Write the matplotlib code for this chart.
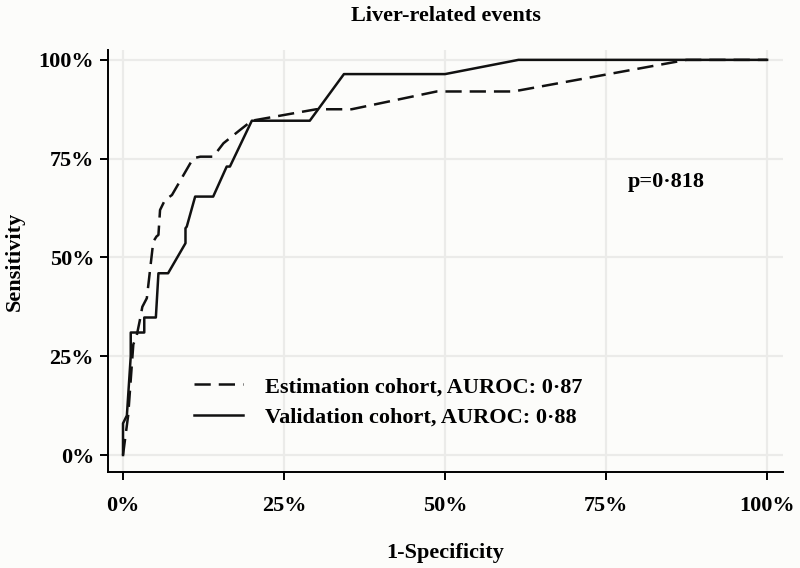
import matplotlib.pyplot as plt
from matplotlib.ticker import PercentFormatter

# ROC curve points (1-specificity, sensitivity)
fpr_est = [0, 0.004, 0.008, 0.012, 0.016, 0.021, 0.026, 0.030, 0.037, 0.047, 0.052,
           0.055, 0.0575, 0.065, 0.076, 0.109, 0.120, 0.140, 0.156, 0.182, 0.200,
           0.300, 0.355, 0.487, 0.606, 0.875, 1.0]
tpr_est = [0, 0.05, 0.10, 0.19, 0.28, 0.30, 0.34, 0.375, 0.397, 0.54, 0.553,
           0.557, 0.62, 0.645, 0.658, 0.751, 0.755, 0.755, 0.789, 0.823, 0.846,
           0.875, 0.875, 0.92, 0.92, 1.0, 1.0]

fpr_val = [0, 0, 0.006, 0.012, 0.012, 0.033, 0.033, 0.051, 0.055, 0.070, 0.097,
           0.097, 0.099, 0.112, 0.140, 0.161, 0.166, 0.200, 0.290, 0.343, 0.500,
           0.614, 1.0]
tpr_val = [0, 0.08, 0.10, 0.25, 0.31, 0.31, 0.348, 0.348, 0.46, 0.46, 0.536,
           0.574, 0.578, 0.654, 0.654, 0.73, 0.73, 0.846, 0.846, 0.964, 0.964,
           1.0, 1.0]

labels = ['Estimation cohort, AUROC: 0\u00b787', 'Validation cohort, AUROC: 0\u00b788']
p_text = 'p=0\u00b7818'
ticks = [0, 0.25, 0.5, 0.75, 1.0]

plt.rcParams['font.family'] = ['Liberation Serif', 'DejaVu Serif']
plt.rcParams['font.weight'] = 'bold'

bg = '#fcfcfa'
fs = 16
fig = plt.figure(figsize=(8, 5.68), dpi=100, facecolor=bg)
ax = fig.add_axes([0.135, 0.169, 0.844, 0.743], facecolor=bg)

ax.plot(fpr_est, tpr_est, color='#111111', lw=1.8, linestyle=(0, (6.5, 3.2)), label=labels[0])
ax.plot(fpr_val, tpr_val, color='#111111', lw=1.8, label=labels[1])

ax.set_xlim(-0.0233, 1.025)
ax.set_ylim(-0.043, 1.025)
ax.set_xticks(ticks)
ax.set_yticks(ticks)
ax.xaxis.set_major_formatter(PercentFormatter(1.0, decimals=0))
ax.yaxis.set_major_formatter(PercentFormatter(1.0, decimals=0))
ax.grid(True, color='#ebebe9', lw=1.6)
ax.set_axisbelow(True)

for side in ['top', 'right']:
    ax.spines[side].set_visible(False)
for side in ['left', 'bottom']:
    ax.spines[side].set_linewidth(1.4)
ax.tick_params(labelsize=fs, length=6, width=1.4)
ax.tick_params(axis='x', pad=11)
ax.tick_params(axis='y', pad=4)

ax.set_xlabel('1-Specificity', fontsize=fs, fontweight='bold', labelpad=20)
ax.set_ylabel('Sensitivity', fontsize=fs, fontweight='bold', labelpad=10)
ax.set_title('Liver-related events', fontsize=fs, fontweight='bold', pad=21)

ax.text(0.783, 0.69, p_text, fontsize=fs, fontweight='bold', va='center', ha='left')

ax.legend(loc='upper left', bbox_to_anchor=(0.127, 0.226), frameon=False,
          fontsize=fs, handlelength=2.2, handletextpad=1.0, labelspacing=0.46,
          borderpad=0, borderaxespad=0)

fig.savefig('out.png', dpi=100, facecolor=bg)
